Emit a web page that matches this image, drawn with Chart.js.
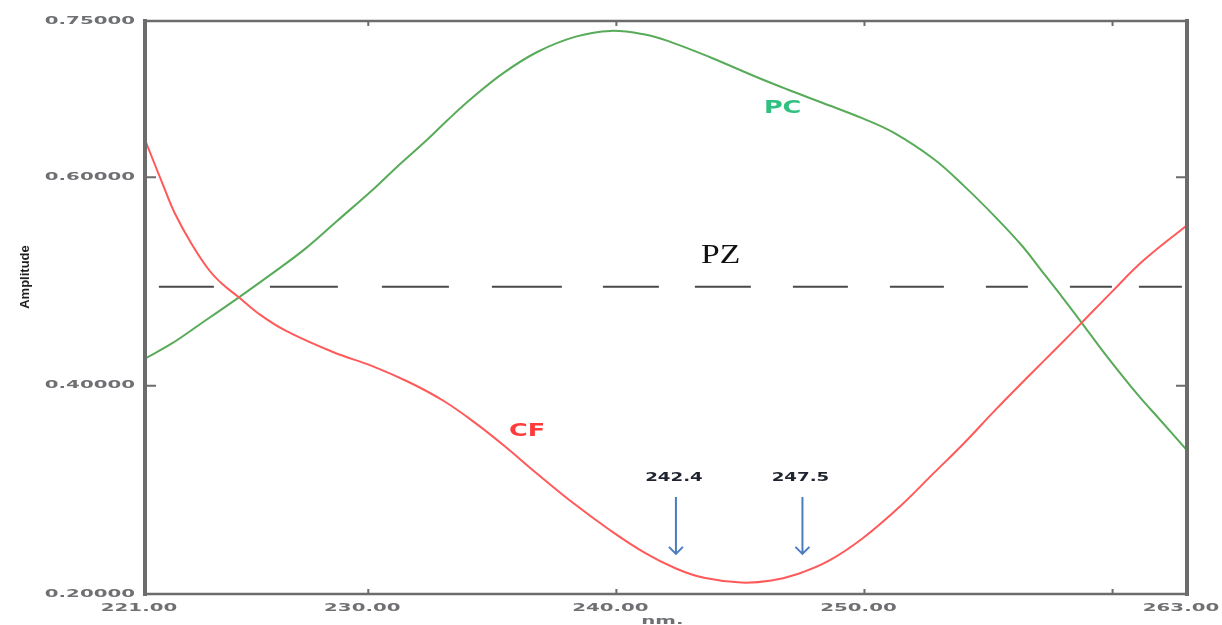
<!DOCTYPE html>
<html>
<head>
<meta charset="utf-8">
<script src="https://cdn.jsdelivr.net/npm/chart.js@4/dist/chart.umd.min.js"></script>
<style>
  html, body { margin: 0; padding: 0; background: #fff; }
  #wrap { width: 1222px; height: 625px; position: relative; }
</style>
</head>
<body>
<div id="wrap"><canvas id="spectra" width="1222" height="625"></canvas></div>
<script>
// wavelength (nm) / amplitude pairs for each curve
const cfWave = [221.0, 221.77, 222.19, 222.88, 223.58, 224.14, 224.77, 225.53, 226.65, 228.6, 230.14,
    231.67, 233.06, 234.32, 235.44, 236.83, 238.22, 239.76, 241.15, 242.4, 243.53, 245.03, 246.25,
    247.34, 248.57, 249.93, 251.43, 252.79, 254.02, 255.25, 256.61, 257.83, 258.72, 260.01, 261.24, 263.0];
const cfAmp = [0.636, 0.590, 0.566, 0.536, 0.511, 0.497, 0.485, 0.470, 0.453, 0.432, 0.419,
    0.403, 0.385, 0.364, 0.343, 0.315, 0.288, 0.261, 0.2395, 0.2245, 0.2155, 0.211, 0.213,
    0.2195, 0.232, 0.2535, 0.284, 0.316, 0.345, 0.376, 0.409, 0.438, 0.4595, 0.4910, 0.520, 0.554];

const pcWave = [221.0, 222.05, 223.16, 224.77, 226.09, 227.49, 228.74, 230.27, 231.11, 232.37, 233.2,
    234.18, 235.44, 236.83, 238.36, 239.76, 241.15, 242.17, 243.8, 245.57, 246.93, 248.3, 249.93,
    251.16, 252.79, 254.02, 255.25, 256.34, 257.15, 257.97, 258.72, 259.74, 260.97, 261.92, 263.0];
const pcAmp = [0.426, 0.440, 0.458, 0.4845, 0.507, 0.532, 0.558, 0.590, 0.609, 0.636, 0.655,
    0.676, 0.700, 0.7205, 0.735, 0.7405, 0.737, 0.730, 0.715, 0.697, 0.684, 0.6715, 0.6565,
    0.643, 0.6175, 0.5915, 0.5625, 0.5345, 0.5100, 0.4850, 0.4615, 0.4290, 0.3925, 0.3670, 0.338];

// zero-crossing reference line
const pzWave = [221.56, 262.8];
const pzAmp = [0.495, 0.495];

// marked wavelengths
const markWave = [242.4, 247.5];
const markTop = 0.293;
const markBottom = 0.2385;

const xTickLabels = [221, 230, 240, 250, 263];
const xTickMarks = [230, 240, 250, 260];
const yTickLabels = [0.75, 0.60, 0.40, 0.20];
const yTickMarks = [0.60, 0.40];

function pairs(xs, ys) {
    return xs.map((x, i) => ({ x: x, y: ys[i] }));
}

// text stretched horizontally around its anchor point
function wideText(ctx, text, x, y, sx, align, baseline) {
    ctx.save();
    ctx.translate(x, y);
    ctx.scale(sx, 1);
    ctx.textAlign = align;
    ctx.textBaseline = baseline || 'middle';
    ctx.fillText(text, 0, 0);
    ctx.restore();
}

const framePlugin = {
    id: 'frame',
    afterDatasetsDraw(chart) {
        const ctx = chart.ctx;
        const a = chart.chartArea;
        const xs = chart.scales.x, ys = chart.scales.y;
        ctx.save();
        ctx.strokeStyle = '#6c6c6c';
        ctx.lineCap = 'square';
        // top and bottom
        ctx.lineWidth = 2.5;
        ctx.beginPath();
        ctx.moveTo(a.left, a.top); ctx.lineTo(a.right, a.top);
        ctx.moveTo(a.left, a.bottom); ctx.lineTo(a.right, a.bottom);
        ctx.stroke();
        // left and right are heavier
        ctx.lineWidth = 4;
        ctx.beginPath();
        ctx.moveTo(a.left, a.top); ctx.lineTo(a.left, a.bottom);
        ctx.moveTo(a.right, a.top); ctx.lineTo(a.right, a.bottom);
        ctx.stroke();

        // inward tick marks
        ctx.lineWidth = 2;
        ctx.lineCap = 'butt';
        ctx.beginPath();
        xTickMarks.forEach(v => {
            const px = xs.getPixelForValue(v);
            ctx.moveTo(px, a.bottom); ctx.lineTo(px, a.bottom - 5);
            ctx.moveTo(px, a.top); ctx.lineTo(px, a.top + 5);
        });
        yTickMarks.forEach(v => {
            const py = ys.getPixelForValue(v);
            ctx.moveTo(a.left, py); ctx.lineTo(a.left + 11, py);
            ctx.moveTo(a.right, py); ctx.lineTo(a.right - 11, py);
        });
        ctx.stroke();

        // tick labels
        ctx.fillStyle = '#6e7073';
        ctx.font = 'bold 11px "DejaVu Sans"';
        yTickLabels.forEach(v => {
            wideText(ctx, v.toFixed(5), 135, ys.getPixelForValue(v), 1.8, 'right');
        });
        xTickLabels.forEach(v => {
            wideText(ctx, v.toFixed(2), xs.getPixelForValue(v) - 6, 608, 1.8, 'center');
        });
        wideText(ctx, 'nm.', xs.getPixelForValue(240) + 46, 616, 1.8, 'center', 'top');

        // axis title
        ctx.fillStyle = '#1e1e1e';
        ctx.font = 'bold 13px "Liberation Sans"';
        ctx.save();
        ctx.translate(25, 277);
        ctx.rotate(-Math.PI / 2);
        ctx.textAlign = 'center';
        ctx.textBaseline = 'middle';
        ctx.fillText('Amplitude', 0, 0);
        ctx.restore();

        // curve names
        ctx.font = 'bold 17px "DejaVu Sans"';
        ctx.fillStyle = '#ff3c3c';
        wideText(ctx, 'CF', xs.getPixelForValue(236.4), ys.getPixelForValue(0.356), 1.5, 'center');
        ctx.fillStyle = '#30c080';
        wideText(ctx, 'PC', xs.getPixelForValue(246.7), ys.getPixelForValue(0.666), 1.5, 'center');
        ctx.font = '28px "Liberation Serif"';
        ctx.fillStyle = '#111';
        wideText(ctx, 'PZ', xs.getPixelForValue(244.2), ys.getPixelForValue(0.525), 1.2, 'center');

        // arrows pointing at the marked wavelengths
        markWave.forEach(w => {
            const px = xs.getPixelForValue(w);
            const top = ys.getPixelForValue(markTop);
            const bot = ys.getPixelForValue(markBottom);
            ctx.strokeStyle = '#4a7cc0';
            ctx.lineWidth = 2;
            ctx.beginPath();
            ctx.moveTo(px, top); ctx.lineTo(px, bot);
            ctx.moveTo(px - 7, bot - 7); ctx.lineTo(px, bot); ctx.lineTo(px + 7, bot - 7);
            ctx.stroke();
            ctx.fillStyle = '#1f2430';
            ctx.font = 'bold 13px "DejaVu Sans"';
            wideText(ctx, w.toFixed(1), px - 2, top - 19, 1.4, 'center');
        });
        ctx.restore();
    }
};

new Chart(document.getElementById('spectra'), {
    type: 'line',
    data: {
        datasets: [
            {
                label: 'CF',
                data: pairs(cfWave, cfAmp),
                borderColor: '#ff5a5a',
                borderWidth: 2,
                pointRadius: 0,
                tension: 0.4
            },
            {
                label: 'PC',
                data: pairs(pcWave, pcAmp),
                borderColor: '#58ab58',
                borderWidth: 2,
                pointRadius: 0,
                tension: 0.4
            },
            {
                label: 'PZ',
                data: pairs(pzWave, pzAmp),
                borderColor: '#4a4a4a',
                borderWidth: 2,
                borderDash: [55, 56, 68, 44, 67, 43, 70, 41, 56, 36, 56, 42, 55, 42, 54, 42, 42, 42, 42, 27, 43, 20],
                pointRadius: 0
            }
        ]
    },
    options: {
        responsive: false,
        animation: false,
        events: [],
        layout: { padding: { left: 145, top: 21, right: 35, bottom: 31 } },
        plugins: { legend: { display: false }, tooltip: { enabled: false } },
        scales: {
            x: { type: 'linear', min: 221, max: 263, display: false },
            y: { type: 'linear', min: 0.20, max: 0.75, display: false }
        }
    },
    plugins: [framePlugin]
});
</script>
</body>
</html>
